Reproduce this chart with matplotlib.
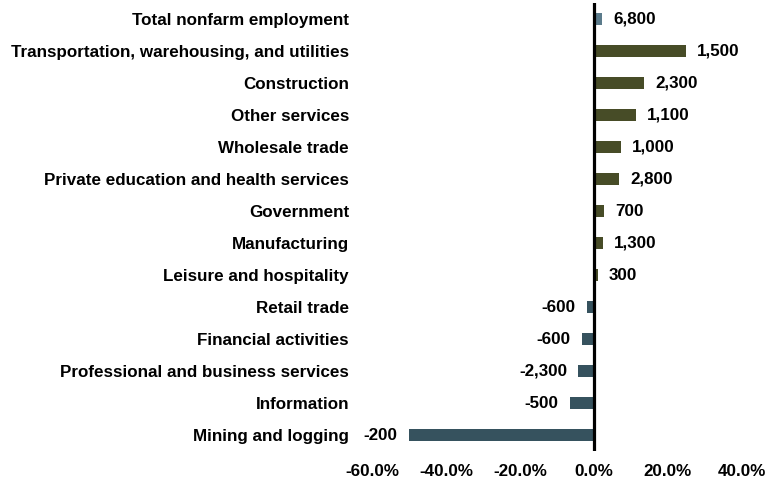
import numpy as np
import matplotlib
matplotlib.use("Agg")
import matplotlib.pyplot as plt

plt.rcParams['font.family'] = ['Liberation Sans', 'DejaVu Sans']
plt.rcParams['font.weight'] = 'bold'

# data (top to bottom)
industries = ["Total nonfarm employment",
              "Transportation, warehousing, and utilities",
              "Construction",
              "Other services",
              "Wholesale trade",
              "Private education and health services",
              "Government",
              "Manufacturing",
              "Leisure and hospitality",
              "Retail trade",
              "Financial activities",
              "Professional and business services",
              "Information",
              "Mining and logging"]
pct_change = [2.2, 24.9, 13.5, 11.4, 7.2, 6.7, 2.8, 2.4, 1.0,
              -2.0, -3.3, -4.2, -6.6, -50.1]
jobs_change = [6800, 1500, 2300, 1100, 1000, 2800, 700, 1300, 300,
               -600, -600, -2300, -500, -200]
xticks = [-60, -40, -20, 0, 20, 40]

c_total = '#5b7b8b'
c_pos = '#474c27'
c_neg = '#36525e'

fig = plt.figure(figsize=(7.79, 4.79), dpi=100)
ax = fig.add_axes([0.4775, 0.058, 0.475, 0.936])

y = np.arange(len(industries))
colors = []
for i, v in enumerate(pct_change):
    if i == 0:
        colors.append(c_total)
    elif v >= 0:
        colors.append(c_pos)
    else:
        colors.append(c_neg)

ax.barh(y, pct_change, height=0.37, color=colors)
ax.axvline(0, color='black', lw=2.3, zorder=5)

fs = 12.25
for i, (p, n) in enumerate(zip(pct_change, jobs_change)):
    txt = f"{n:,}"
    if p >= 0:
        ax.annotate(txt, (p, i), xytext=(8, 0), textcoords='offset points',
                    ha='left', va='center', fontsize=fs, fontweight='bold')
    else:
        ax.annotate(txt, (p, i), xytext=(-8, 0), textcoords='offset points',
                    ha='right', va='center', fontsize=fs, fontweight='bold')

ax.set_ylim(len(industries) - 0.5, -0.5)
ax.set_xlim(-60, 40)
ax.set_yticks(y)
ax.set_yticklabels(industries, fontsize=fs, fontweight='bold')
ax.set_xticks(xticks)
ax.set_xticklabels([f"{t:.1f}%" for t in xticks], fontsize=fs, fontweight='bold')
ax.tick_params(axis='y', length=0, pad=16.5)
ax.tick_params(axis='x', length=0, pad=9.5)
for s in ax.spines.values():
    s.set_visible(False)

fig.savefig("out.png", dpi=100)
